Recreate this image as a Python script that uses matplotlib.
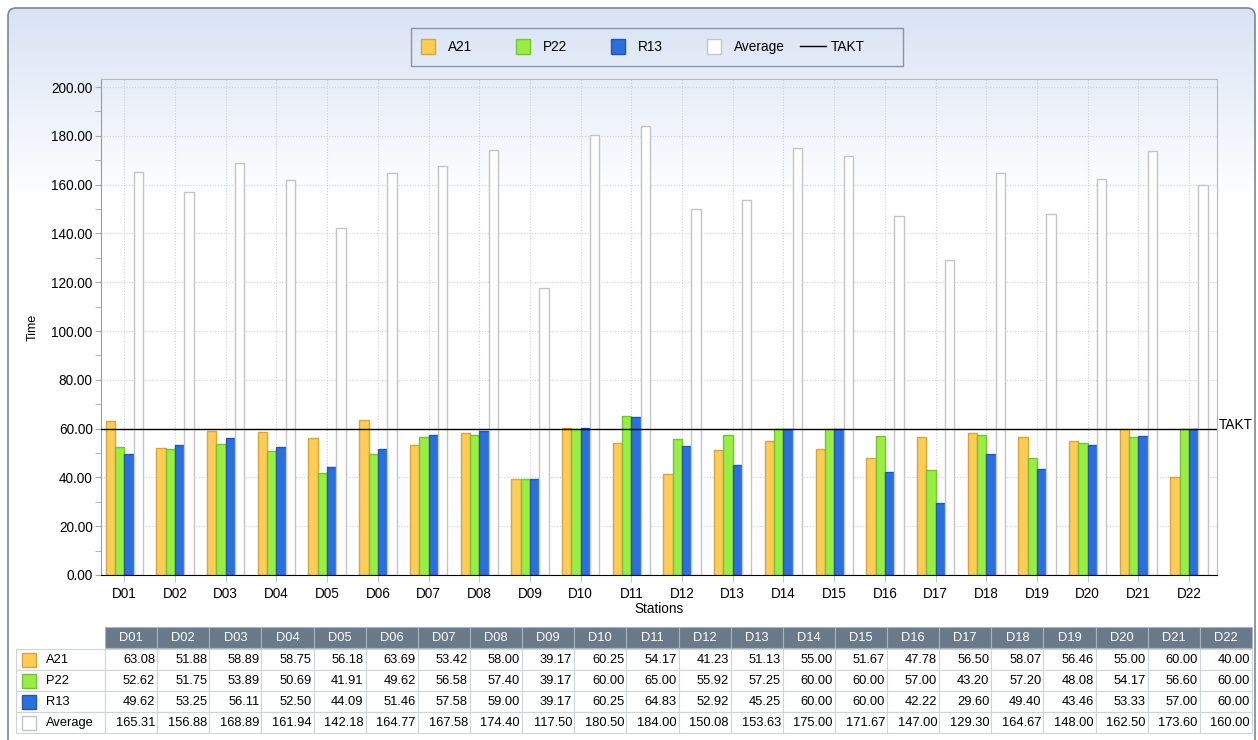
import numpy as np
import matplotlib.pyplot as plt
from matplotlib.patches import Rectangle, FancyBboxPatch
from matplotlib.lines import Line2D
from matplotlib.ticker import MultipleLocator, FormatStrFormatter

plt.rcParams['font.family'] = ['Liberation Sans', 'DejaVu Sans']

# ---- data ----
stations = ['D%02d' % i for i in range(1, 23)]
a21 = [63.08, 51.88, 58.89, 58.75, 56.18, 63.69, 53.42, 58.00, 39.17, 60.25, 54.17,
       41.23, 51.13, 55.00, 51.67, 47.78, 56.50, 58.07, 56.46, 55.00, 60.00, 40.00]
p22 = [52.62, 51.75, 53.89, 50.69, 41.91, 49.62, 56.58, 57.40, 39.17, 60.00, 65.00,
       55.92, 57.25, 60.00, 60.00, 57.00, 43.20, 57.20, 48.08, 54.17, 56.60, 60.00]
r13 = [49.62, 53.25, 56.11, 52.50, 44.09, 51.46, 57.58, 59.00, 39.17, 60.25, 64.83,
       52.92, 45.25, 60.00, 60.00, 42.22, 29.60, 49.40, 43.46, 53.33, 57.00, 60.00]
average = [165.31, 156.88, 168.89, 161.94, 142.18, 164.77, 167.58, 174.40, 117.50, 180.50, 184.00,
           150.08, 153.63, 175.00, 171.67, 147.00, 129.30, 164.67, 148.00, 162.50, 173.60, 160.00]
takt = 60.0

series_names = ['A21', 'P22', 'R13', 'Average']
series_vals = [a21, p22, r13, average]
fills = ['#ffcc55', '#99ee44', '#2b6fdc', '#ffffff']
edges = ['#d6a53c', '#74c434', '#2257b5', '#c4c4c4']

W, H = 1258, 740
fig = plt.figure(figsize=(W / 100, H / 100), dpi=100)

# ---- background panel (pixel coordinates) ----
bg = fig.add_axes([0, 0, 1, 1], zorder=0)
bg.set_xlim(0, W)
bg.set_ylim(H, 0)
bg.axis('off')

top_c = np.array([0.85, 0.89, 0.96])
grad = np.linspace(0, 1, 200)[:, None, None]
grad = top_c + (1 - top_c) * grad
frame = FancyBboxPatch((8, 8), 1247, 800, boxstyle='round,pad=0,rounding_size=8',
                       fc='none', ec='#7b8794', lw=1.2, zorder=3)
img = bg.imshow(grad, extent=(8, 1255, 200, 8), aspect='auto', zorder=1)
bg.add_patch(frame)
img.set_clip_path(frame)

# ---- legend box ----
bg.add_patch(Rectangle((411, 28), 492, 38, fc='none', ec='#8a95a1', lw=1, zorder=2))
leg_x = [421, 516, 611, 707]
for x, name, fc, ec in zip(leg_x, series_names, fills, edges):
    bg.add_patch(Rectangle((x, 39), 14, 15, fc=fc, ec=ec, lw=1, zorder=2))
    bg.text(x + 27, 47, name, fontsize=9.8, va='center', ha='left')
bg.add_line(Line2D([800, 826], [46, 46], color='black', lw=1))
bg.text(831, 47, 'TAKT', fontsize=9.8, va='center', ha='left')

# ---- chart ----
ax = fig.add_axes([101 / W, 1 - 575 / H, 1116 / W, 496 / H], zorder=1)
ax.set_facecolor('none')
x = np.arange(len(stations))
bw = 0.184
for k, (vals, fc, ec) in enumerate(zip(series_vals, fills, edges)):
    ax.bar(x + (k - 1.5) * bw, vals, bw, color=fc, edgecolor=ec, linewidth=1, zorder=2)

ax.axhline(takt, color='black', lw=1, zorder=3)
ax.text(1.0015, takt + 1.6, 'TAKT', transform=ax.get_yaxis_transform(), fontsize=9.8,
        ha='left', va='center', clip_on=False)

ax.set_xlim(-0.46, 21.55)
ax.set_ylim(0, 203.3)
ax.set_xticks(x)
ax.set_xticklabels(stations, fontsize=9.8)
ax.yaxis.set_major_locator(MultipleLocator(20))
ax.yaxis.set_minor_locator(MultipleLocator(10))
ax.yaxis.set_major_formatter(FormatStrFormatter('%.2f'))
ax.tick_params(axis='y', which='both', direction='out', length=4, color='#a8a8a8',
               labelsize=9.8, pad=2)
ax.tick_params(axis='x', direction='out', length=5, color='#c8c8c8', pad=4)
ax.grid(True, axis='both', which='major', linestyle=(0, (1, 1.5)), color='#cdd1d6', lw=0.8, zorder=0)
ax.set_axisbelow(True)
for side in ['top', 'right']:
    ax.spines[side].set_color('#b8b8b8')
ax.spines['left'].set_color('#9a9a9a')
ax.spines['bottom'].set_color('black')
ax.spines['bottom'].set_zorder(4)

ax.set_ylabel('Time', fontsize=9)
ax.yaxis.set_label_coords(-(101 - 39) / 1116, 0.5)
ax.set_xlabel('Stations', fontsize=9.8)
ax.xaxis.set_label_coords(0.5, -(602 - 575) / 496)

# ---- data table ----
col0, pitch = 105, (1252 - 105) / 22
hdr_top, hdr_h = 627, 21
row_h = 21
grid_c = '#cfd4d9'
for j, s in enumerate(stations):
    cx = col0 + j * pitch
    bg.add_patch(Rectangle((cx, hdr_top), pitch, hdr_h, fc='#6a7a8a', ec='#a9b4bf', lw=0.8, zorder=2))
    bg.text(cx + pitch / 2, hdr_top + hdr_h / 2 + 0.5, s, color='white', fontsize=9.3,
            ha='center', va='center', zorder=3)

body_top = hdr_top + hdr_h + 1
for i, (name, vals, fc, ec) in enumerate(zip(series_names, series_vals, fills, edges)):
    ry = body_top + i * row_h
    bg.add_patch(Rectangle((16, ry), col0 - 16, row_h, fc='white', ec=grid_c, lw=0.8, zorder=2))
    bg.add_patch(Rectangle((22, ry + 3.5), 14, 14, fc=fc, ec=ec, lw=1, zorder=3))
    bg.text(46, ry + row_h / 2 + 0.5, name, fontsize=9.3, ha='left', va='center', zorder=3)
    for j, v in enumerate(vals):
        cx = col0 + j * pitch
        bg.add_patch(Rectangle((cx, ry), pitch, row_h, fc='white', ec=grid_c, lw=0.8, zorder=2))
        bg.text(cx + pitch - 2, ry + row_h / 2 + 0.5, '%.2f' % v, fontsize=9.3,
                ha='right', va='center', zorder=3)

fig.savefig('out.png', dpi=100)
